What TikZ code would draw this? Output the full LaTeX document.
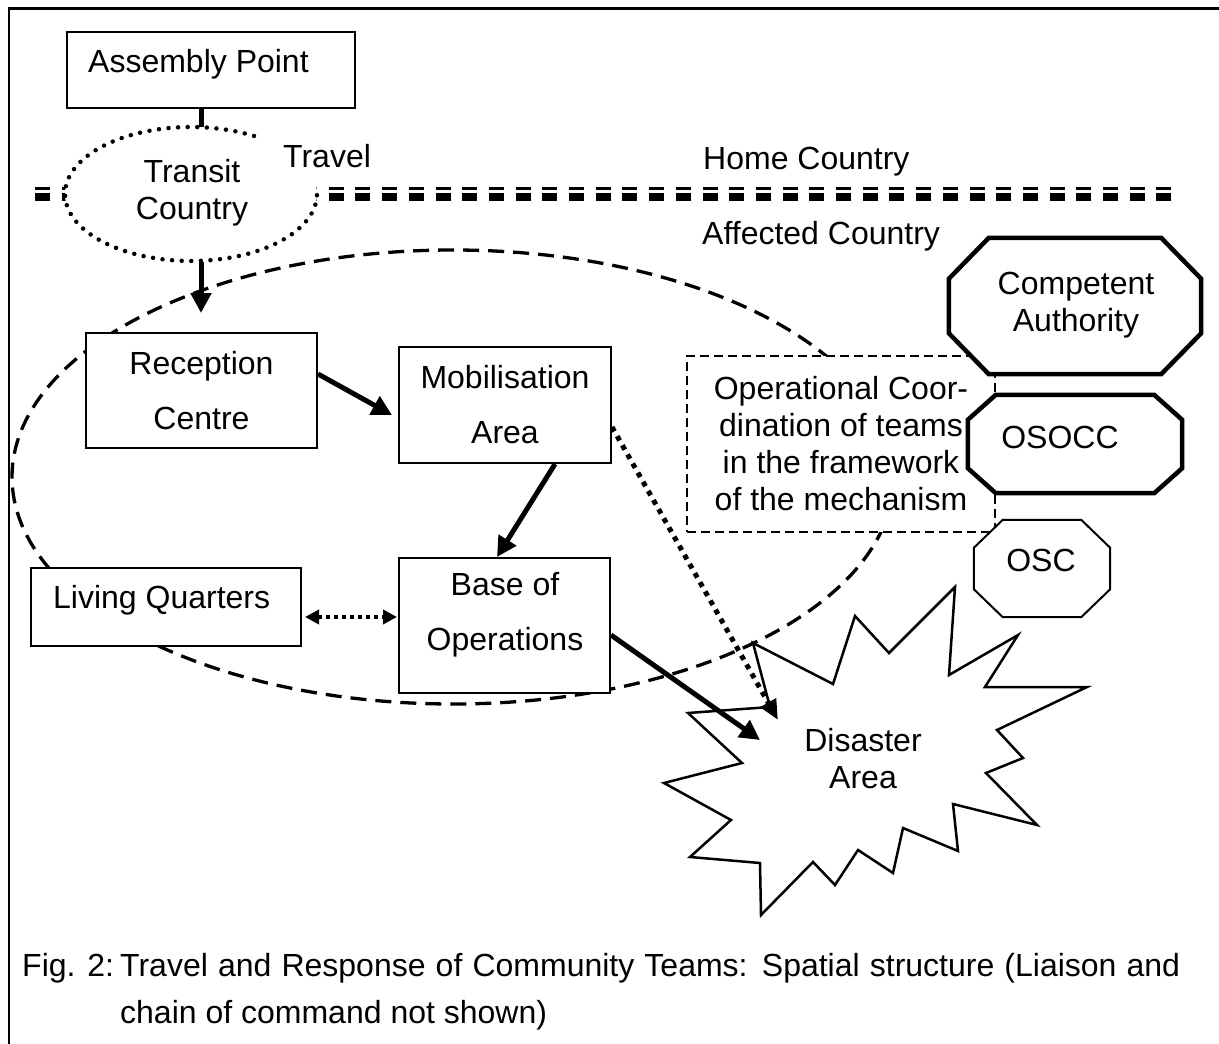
\documentclass[tikz,border=0pt]{standalone}
\usepackage{fontspec}
\setmainfont{Liberation Sans}
\usetikzlibrary{arrows.meta,shapes.geometric}
\newcommand\octobox[4]{%
  \draw[#2] ([xshift=#3]#1.north west) -- ([xshift=-#3]#1.north east)
    -- ([yshift=-#4]#1.north east) -- ([yshift=#4]#1.south east)
    -- ([xshift=-#3]#1.south east) -- ([xshift=#3]#1.south west)
    -- ([yshift=#4]#1.south west) -- ([yshift=-#4]#1.north west) -- cycle;}
\begin{document}
\begin{tikzpicture}[x=1pt,y=-1pt,
  box/.style={draw, line width=2pt, fill=white, inner sep=0pt},
  dbox/.style={draw, line width=2pt, dash pattern=on 9pt off 5pt, fill=white, inner sep=0pt},
  ghost/.style={draw=none, inner sep=0pt},
  lbl/.style={inner sep=0pt, font=\fontsize{32}{37}\selectfont, align=center},
  lblwide/.style={inner sep=0pt, font=\fontsize{32}{55}\selectfont, align=center},
  heavy/.style={line width=5pt},
  arr/.style={line width=5pt, -{Triangle[width=20pt,length=20pt]}},
  dotarr/.style={line width=5pt, dash pattern=on 5pt off 5.5pt, -{Triangle[width=17pt,length=20pt]}},
  dblarr/.style={line width=4pt, dash pattern=on 4pt off 4pt, {Triangle[width=14pt,length=14pt]}-{Triangle[width=14pt,length=14pt]}},
  octthick/.style={draw, line width=4.5pt, fill=white, line join=miter},
  octthin/.style={draw, line width=2pt, fill=white},
  roundots/.style={line width=4.5pt, line cap=round, dash pattern=on 0pt off 9.6pt},
  bigdash/.style={line width=3.3pt, dash pattern=on 16pt off 9pt},
  capfont/.style={inner sep=0pt, font=\fontsize{32}{37}\selectfont}
]
\useasboundingbox (0,0) rectangle (1219,1044);
\fill[white] (0,0) rectangle (1219,1044);

% frame (only left and top edges are visible)
\draw[line width=2.5pt] (9,1044) -- (9,8.5) -- (1219,8.5);

% affected country area
\draw[bigdash] (453,477) ellipse [x radius=441, y radius=227];

% border line between home and affected country
\draw[line width=2.7pt, dash pattern=on 15pt off 11.7pt] (35,188.7) -- (1171,188.7);
\draw[line width=7.3pt, dash pattern=on 15pt off 11.7pt] (35,197) -- (1171,197);

% transit country
\node[ellipse, fill=white, minimum width=252pt, minimum height=134pt, inner sep=0pt] (transit) at (191,194) {};
\draw[roundots] plot[domain=-60:-365, samples=160] ({191+126*cos(\x)},{194+67*sin(\x)});
\node[lbl] (transittxt) at (192,193) {Transit\\Country};

% assembly point
\node[box, minimum width=288pt, minimum height=76pt] (ap) at (211,70) {};
\node[lbl, anchor=base west] (aptxt) at (88,72) {Assembly Point};
\coordinate (trtop) at (201,127);
\coordinate (trbot) at (201,262);
\coordinate (rctip) at (201,313);
\draw[heavy] (ap.south -| trtop) -- (trtop);
\draw[arr] (trbot) -- (rctip);

\node[lbl, anchor=base west] (travel) at (283,167) {Travel};
\node[lbl, anchor=base west] (home) at (703,169) {Home Country};
\node[lbl, anchor=base west] (affected) at (702,244) {Affected Country};

% boxes
\node[box, lblwide, minimum width=231pt, minimum height=115pt] (rc) at (201.5,390.5) {Reception\\Centre};
\node[box, lblwide, minimum width=212pt, minimum height=116pt] (mob) at (505,405) {Mobilisation\\Area};
\node[box, minimum width=211pt, minimum height=135pt] (base) at (504.5,625.5) {};
\node[lblwide] (basetxt) at (505,615) {Base of\\Operations};
\node[box, minimum width=270pt, minimum height=78pt] (lq) at (166,607) {};
\node[lbl, anchor=base west] (lqtxt) at (53,608) {Living Quarters};

% operational coordination
\node[dbox, lbl, minimum width=308pt, minimum height=176pt] (opc) at (841,444)
  {Operational Coor-\\dination of teams\\in the framework\\of the mechanism};

% octagons
\node[ghost, minimum width=252pt, minimum height=136pt] (ca) at (1075,306) {};
\octobox{ca}{octthick}{40pt}{41pt}
\node[lbl] (catxt) at (1076,305) {Competent\\Authority};
\node[ghost, minimum width=214pt, minimum height=98pt] (osocc) at (1075,444) {};
\octobox{osocc}{octthick}{28pt}{25pt}
\node[lbl] (osocctxt) at (1060,437) {OSOCC};
\node[ghost, minimum width=136pt, minimum height=97pt] (osc) at (1042,568.5) {};
\octobox{osc}{octthin}{29pt}{28pt}
\node[lbl] (osctxt) at (1041,560) {OSC};

% disaster area
\draw[line width=2.5pt, fill=white, line join=miter] (753,643) -- (833,684) -- (855,616) -- (889,653) -- (955,587)
  -- (949,675) -- (1018,635) -- (985,687) -- (1087,687) -- (997,730) -- (1023,758)
  -- (986,773) -- (1037,825) -- (953,804) -- (958,851) -- (903,828) -- (893,873)
  -- (858,850) -- (835,885) -- (813,862) -- (761,915) -- (760,863) -- (690,857)
  -- (731,820) -- (664,783) -- (742,763) -- (688,713) -- (770,707) -- cycle;
\node[lbl] (dis) at (863,759) {Disaster\\Area};
\coordinate (da1) at (760,740);
\coordinate (da2) at (778,720);

% connectors
\draw[arr] ([yshift=16.5pt]rc.east) -- ([xshift=-6pt,yshift=-10pt]mob.west);
\draw[arr] ([xshift=50pt]mob.south) -- ([xshift=-7.5pt]base.north);
\draw[dotarr] ([yshift=-22pt]mob.east) -- (da2);
\draw[arr] ([yshift=-9.5pt]base.east) -- (da1);
\draw[dblarr] ([xshift=3pt,yshift=-10pt]lq.east) -- ([xshift=-1pt,yshift=8.5pt]base.west);

% caption
\node[capfont, anchor=base west] (figno) at (22,976) {Fig. 2:};
\node[capfont, anchor=base west] (cap1) at (120,976)
  {\makebox[1060pt][s]{Travel and Response of Community Teams: Spatial structure (Liaison and}};
\node[capfont, anchor=base west] (cap2) at (120,1023) {chain of command not shown)};
\end{tikzpicture}
\end{document}
